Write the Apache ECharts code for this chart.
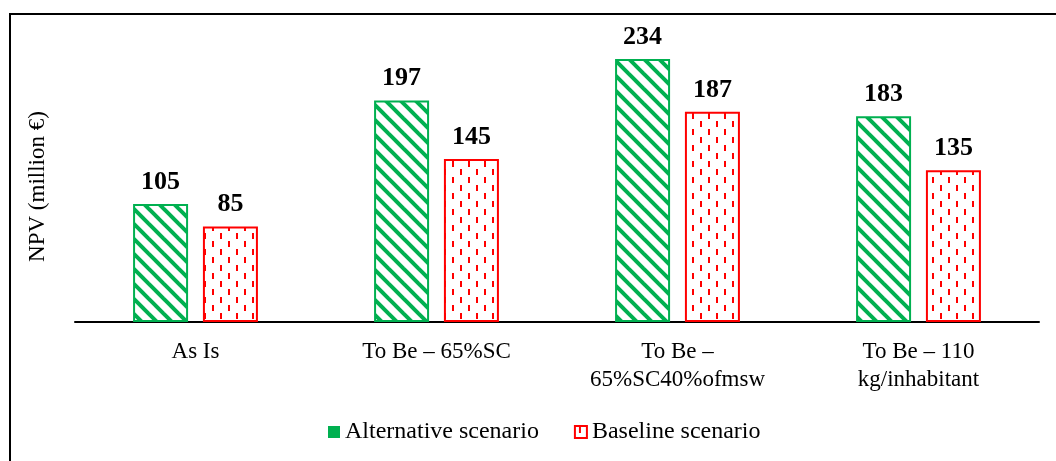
<!DOCTYPE html>
<html>
<head>
<meta charset="utf-8">
<script src="https://cdn.jsdelivr.net/npm/echarts@6/dist/echarts.min.js"></script>
<style>
  html, body { margin: 0; padding: 0; background: #fff; overflow: hidden; }
  #wrap { position: relative; width: 1056px; height: 461px; }
  #chart { position: absolute; left: 0; top: 0; width: 1056px; height: 461px; }
  /* 外框（右侧和底部被裁掉） */
  #frame {
    position: absolute; left: 9px; top: 13px; width: 1100px; height: 500px;
    border-left: 2px solid #000; border-top: 2px solid #000; pointer-events: none;
  }
</style>
</head>
<body>
<div id="wrap">
  <div id="chart"></div>
  <div id="frame"></div>
</div>
<script>
// 数据
const categories = ['As Is', 'To Be – 65%SC', 'To Be –\n65%SC40%ofmsw', 'To Be – 110\nkg/inhabitant'];
const alternative = [105, 197, 234, 183];
const baseline = [85, 145, 187, 135];

const GREEN = '#00B050';
const RED = '#FF0000';

// 绿色斜纹
function stripePattern() {
  const c = document.createElement('canvas');
  c.width = 15; c.height = 15;
  const ctx = c.getContext('2d');
  ctx.fillStyle = '#fff';
  ctx.fillRect(0, 0, 15, 15);
  ctx.strokeStyle = GREEN;
  ctx.lineWidth = 4;
  for (let k = -1; k <= 1; k++) {
    ctx.beginPath();
    ctx.moveTo(-5, -5 + k * 15);
    ctx.lineTo(20, 20 + k * 15);
    ctx.stroke();
  }
  return c;
}

// 红色竖虚线（交错）
function dashPattern() {
  const c = document.createElement('canvas');
  c.width = 16; c.height = 16;
  const ctx = c.getContext('2d');
  ctx.fillStyle = '#fff';
  ctx.fillRect(0, 0, 16, 16);
  ctx.fillStyle = RED;
  ctx.fillRect(4, 1, 2, 6);
  ctx.fillRect(12, 9, 2, 6);
  return c;
}

const chart = echarts.init(document.getElementById('chart'));
const labelStyle = {
  show: true,
  position: 'top',
  distance: 9,
  fontFamily: 'Liberation Serif',
  fontSize: 26,
  fontWeight: 'bold',
  color: '#000'
};

chart.setOption({
  animation: false,
  grid: { left: 75, right: 17, top: 41, bottom: 139 },
  legend: {
    left: 323,
    top: 415,
    itemWidth: 12,
    itemHeight: 12,
    itemGap: 35,
    textStyle: { fontFamily: 'Liberation Serif', fontSize: 24, color: '#000' },
    data: [
      { name: 'Alternative scenario', icon: 'rect', itemStyle: { color: GREEN, borderWidth: 0 } },
      { name: 'Baseline scenario', icon: 'rect' }
    ]
  },
  xAxis: {
    type: 'category',
    data: categories,
    axisLine: { lineStyle: { color: '#000', width: 2 } },
    axisTick: { show: false },
    axisLabel: {
      margin: 16,
      fontFamily: 'Liberation Serif',
      fontSize: 23,
      lineHeight: 28,
      color: '#000'
    }
  },
  yAxis: {
    type: 'value',
    min: 0,
    max: 250,
    name: 'NPV (million €)',
    nameLocation: 'middle',
    nameGap: 26,
    nameTextStyle: { fontFamily: 'Liberation Serif', fontSize: 23, color: '#000', padding: [0, 10, 0, 0] },
    axisLine: { show: false },
    axisTick: { show: false },
    axisLabel: { show: false },
    splitLine: { show: false }
  },
  series: [
    {
      name: 'Alternative scenario',
      type: 'bar',
      data: alternative,
      barWidth: 55,
      barGap: '27%',
      itemStyle: {
        color: { image: stripePattern(), repeat: 'repeat' },
        borderColor: GREEN,
        borderWidth: 2
      },
      label: labelStyle
    },
    {
      name: 'Baseline scenario',
      type: 'bar',
      data: baseline,
      barWidth: 55,
      itemStyle: {
        color: { image: dashPattern(), repeat: 'repeat' },
        borderColor: RED,
        borderWidth: 2
      },
      label: labelStyle
    }
  ]
});
</script>
</body>
</html>
